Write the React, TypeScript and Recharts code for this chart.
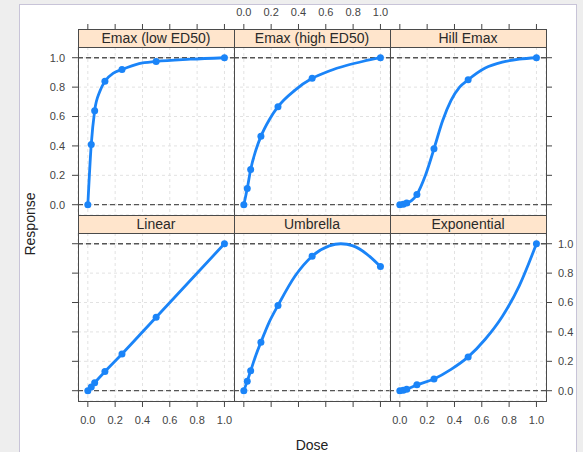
import React from 'react';
import { ComposedChart, Line, XAxis, YAxis, CartesianGrid, ReferenceLine } from 'recharts';

// design doses and the responses at the dots
const doses = [0, 0.025, 0.05, 0.125, 0.25, 0.5, 1];
const emaxLow = [0, 0.41, 0.64, 0.84, 0.92, 0.975, 1.0];
const emaxHigh = [0, 0.11, 0.24, 0.465, 0.667, 0.86, 1.0];
const hillEmax = [0, 0.003, 0.012, 0.07, 0.38, 0.85, 1.0];
const linear = [0, 0.025, 0.054, 0.13, 0.25, 0.5, 1.0];
const umbrella = [0, 0.065, 0.135, 0.33, 0.58, 0.915, 0.845];
const exponential = [0, 0.003, 0.01, 0.04, 0.08, 0.23, 1.0];

// extra points (between the design doses)
const emaxLowCurve = [[0.0875, 0.77], [0.1875, 0.895], [0.375, 0.96], [0.75, 0.99]];
const emaxHighCurve = [[0.0875, 0.37], [0.1875, 0.58], [0.375, 0.78], [0.625, 0.91], [0.75, 0.947], [0.875, 0.976]];
const hillCurve = [[0.0875, 0.03], [0.1875, 0.2], [0.3125, 0.57], [0.375, 0.71], [0.4375, 0.8], [0.625, 0.93], [0.75, 0.97], [0.875, 0.99]];
const linearCurve: number[][] = [];
const umbrellaCurve = [[0.0875, 0.24], [0.1875, 0.47], [0.375, 0.78], [0.625, 0.985], [0.71, 1.0], [0.8, 0.985], [0.9, 0.93]];
const exponentialCurve = [[0.375, 0.145], [0.625, 0.35], [0.75, 0.505], [0.875, 0.715]];

const tickVals = [0, 0.2, 0.4, 0.6, 0.8, 1.0];

const panels = [
  { name: 'Emax (low ED50)', y: emaxLow, curve: emaxLowCurve },
  { name: 'Emax (high ED50)', y: emaxHigh, curve: emaxHighCurve },
  { name: 'Hill Emax', y: hillEmax, curve: hillCurve },
  { name: 'Linear', y: linear, curve: linearCurve },
  { name: 'Umbrella', y: umbrella, curve: umbrellaCurve },
  { name: 'Exponential', y: exponential, curve: exponentialCurve },
];

const PW = 156;
const PH = 168;
const STRIP = 18;
const M = 40;
const AX = 1; // size given to each axis box
const X0 = 78;
const ROW_TOP = [47, 233];
const BLUE = '#1a84f8';
const LABEL = '#444';
const FONT = '"Liberation Sans", Arial, sans-serif';

const fmt = (v: number) => v.toFixed(1);

function TopTick(props: any) {
  const { x, y, payload, showLabel } = props;
  return (
    <g>
      <line x1={x} x2={x} y1={y - STRIP} y2={y - STRIP - 5} stroke="#444" />
      {showLabel && (
        <text x={x} y={y - STRIP - 13} textAnchor="middle" fontSize={11} fill={LABEL} fontFamily={FONT}>
          {fmt(payload.value)}
        </text>
      )}
    </g>
  );
}

function Panel({ idx }: { idx: number }) {
  const p = panels[idx];
  const row = Math.floor(idx / 3);
  const col = idx % 3;
  const points = doses.map((d, i) => ({ x: d, y: p.y[i] }));
  const curve = [...points, ...p.curve.map(([x, y]) => ({ x, y }))].sort((a, b) => a.x - b.x);
  const left = X0 + col * PW;
  const top = ROW_TOP[row];
  const tickStyle = { fill: LABEL, fontSize: 11, fontFamily: FONT };
  const hidden = { fill: 'transparent', fontSize: 11 };
  const yOn = col !== 1;
  const margin = {
    top: row === 0 ? M - AX : M,
    bottom: row === 1 ? M - AX : M,
    left: yOn && col === 0 ? M - AX : M,
    right: yOn && col === 2 ? M - AX : M,
  };

  return (
    <div style={{ position: 'absolute', left: left - M, top: top - M }}>
      <ComposedChart width={PW + 2 * M} height={PH + 2 * M} margin={margin}>
        <CartesianGrid stroke="#e2e2e2" strokeDasharray="3 3" />
        {row === 0 ? (
          <XAxis
            dataKey="x"
            type="number"
            orientation="top"
            domain={[-0.072, 1.07]}
            allowDataOverflow
            ticks={tickVals}
            interval={0}
            height={AX}
            axisLine={false}
            tickLine={false}
            tickSize={0}
            tickMargin={0}
            tick={(tp: any) => <TopTick {...tp} showLabel={col === 1} />}
          />
        ) : (
          <XAxis
            dataKey="x"
            type="number"
            orientation="bottom"
            domain={[-0.072, 1.07]}
            allowDataOverflow
            ticks={tickVals}
            interval={0}
            height={AX}
            axisLine={false}
            tickLine={{ stroke: '#444' }}
            tickSize={6}
            tickMargin={9}
            tickFormatter={fmt}
            tick={col === 1 ? hidden : tickStyle}
          />
        )}
        <YAxis
          dataKey="y"
          type="number"
          orientation={col === 2 ? 'right' : 'left'}
          hide={!yOn}
          domain={[-0.07, 1.073]}
          allowDataOverflow
          ticks={tickVals}
          interval={0}
          width={AX}
          axisLine={false}
          tickLine={{ stroke: '#444' }}
          tickSize={6}
          tickMargin={col === 2 ? 6 : 7}
          tickFormatter={fmt}
          tick={(row === 0 && col === 0) || (row === 1 && col === 2) ? tickStyle : hidden}
        />
        <ReferenceLine y={0} stroke="#555" strokeDasharray="5 3" strokeWidth={1.3} />
        <ReferenceLine y={1} stroke="#555" strokeDasharray="5 3" strokeWidth={1.3} />
        <Line data={curve} dataKey="y" type="monotone" stroke={BLUE} strokeWidth={2.8} dot={false} isAnimationActive={false} />
        <Line
          data={points}
          dataKey="y"
          stroke="transparent"
          dot={{ r: 3.5, fill: BLUE, stroke: BLUE, strokeWidth: 0 }}
          isAnimationActive={false}
        />
      </ComposedChart>
    </div>
  );
}

function Strip({ idx }: { idx: number }) {
  const row = Math.floor(idx / 3);
  const col = idx % 3;
  const left = X0 + col * PW;
  const top = ROW_TOP[row] - STRIP;
  return (
    <div
      style={{
        position: 'absolute',
        left: left - 0.5,
        top: top,
        width: PW + 1,
        height: PH + STRIP + 1,
        border: '1px solid #4a4a4a',
        boxSizing: 'border-box',
      }}
    >
      <div
        style={{
          height: STRIP - 1,
          background: '#ffe5cc',
          borderBottom: '1px solid #4a4a4a',
          textAlign: 'center',
          fontSize: 14,
          lineHeight: `${STRIP - 1}px`,
          color: '#2a2a2a',
          fontFamily: FONT,
          whiteSpace: 'nowrap',
        }}
      >
        {panels[idx].name}
      </div>
    </div>
  );
}

export default function App() {
  return (
    <div style={{ position: 'absolute', left: 0, top: 0, width: 583, height: 452, overflow: 'hidden', background: '#eeeeee' }}>
      <div
        style={{
          position: 'absolute',
          left: 19,
          top: 4,
          width: 558,
          height: 470,
          background: '#fff',
          border: '1.5px solid #c8c4d8',
          boxSizing: 'border-box',
        }}
      />
      {panels.map((_, i) => (
        <Panel key={'p' + i} idx={i} />
      ))}
      {panels.map((_, i) => (
        <Strip key={'s' + i} idx={i} />
      ))}
      <div
        style={{
          position: 'absolute',
          left: 30,
          top: 224,
          transform: 'translate(-50%, -50%) rotate(-90deg)',
          fontSize: 14,
          lineHeight: '15px',
          fontFamily: FONT,
          color: '#222',
          whiteSpace: 'nowrap',
        }}
      >
        Response
      </div>
      <div
        style={{
          position: 'absolute',
          left: 312,
          top: 445,
          transform: 'translate(-50%, -50%)',
          fontSize: 14,
          lineHeight: '14px',
          fontFamily: FONT,
          color: '#222',
        }}
      >
        Dose
      </div>
    </div>
  );
}
